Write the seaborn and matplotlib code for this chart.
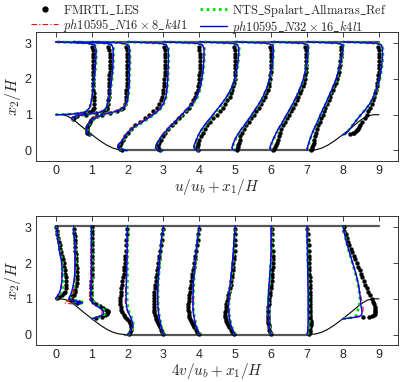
import matplotlib
matplotlib.use("Agg")
import matplotlib.pyplot as plt
from matplotlib.lines import Line2D
import seaborn as sns
import pandas as pd

# stations x1/H where the profiles were taken
stations = [0, 0.5, 1, 2, 3, 4, 5, 6, 7, 8]

# geometry (lower hill walls and channel walls)
hill_left_x = [0, 0.16, 0.32, 0.5, 0.71, 0.9, 1.07, 1.25, 1.43, 1.6, 1.75, 1.93]
hill_left_y = [1.0, 0.998, 0.964, 0.857, 0.679, 0.527, 0.393, 0.258, 0.143, 0.063, 0.02, 0.0]
hill_right_x = [7.07, 7.25, 7.4, 7.57, 7.75, 7.93, 8.1, 8.29, 8.5, 8.68, 8.84, 9.0]
hill_right_y = [0.0, 0.02, 0.063, 0.143, 0.258, 0.393, 0.527, 0.679, 0.857, 0.964, 0.998, 1.0]
top_wall_x = [0, 9]
top_wall_y = [3.036, 3.036]
floor_x = [1.93, 7.07]
floor_y = [0.0, 0.0]

# ---------------- u/u_b profiles ----------------
g_floor_u = [0, 0.03, 0.08, 0.15, 0.25, 0.4, 0.55, 0.7, 0.85, 1.0, 1.15, 1.3, 1.5, 1.75,
             2.0, 2.3, 2.6, 2.85, 2.95, 3.0, 3.036]
u_y_cfd = [
    [1.0, 1.01, 1.03, 1.06, 1.1, 1.2, 1.4, 1.7, 2.0, 2.3, 2.6, 2.85, 2.95, 3.0, 3.036],
    [0.857, 0.88, 0.92, 0.96, 1.0, 1.04, 1.08, 1.14, 1.25, 1.45, 1.7, 2.0, 2.3, 2.6, 2.85, 2.95, 3.0, 3.036],
    [0.44, 0.47, 0.52, 0.6, 0.7, 0.8, 0.9, 1.0, 1.06, 1.12, 1.2, 1.35, 1.55, 1.8, 2.1, 2.4, 2.7, 2.9, 2.97, 3.01, 3.036],
    g_floor_u, g_floor_u, g_floor_u, g_floor_u, g_floor_u, g_floor_u,
    [0.44, 0.47, 0.52, 0.6, 0.7, 0.8, 0.9, 1.0, 1.15, 1.3, 1.5, 1.75, 2.0, 2.3, 2.6, 2.85, 2.95, 3.0, 3.036],
]
u_n32 = [
    [0, 0.35, 0.62, 0.78, 0.87, 0.95, 1.0, 1.04, 1.07, 1.1, 1.12, 1.12, 1.08, 0.9, 0],
    [0, -0.05, -0.04, 0.05, 0.3, 0.6, 0.78, 0.88, 0.93, 0.98, 1.02, 1.06, 1.09, 1.1, 1.1, 1.06, 0.9, 0],
    [0, -0.1, -0.14, -0.13, -0.1, -0.04, 0.08, 0.3, 0.55, 0.78, 0.9, 0.98, 1.02, 1.04, 1.05, 1.06, 1.06, 1.05, 0.98, 0.8, 0],
    [0, -0.2, -0.27, -0.26, -0.17, -0.06, 0.05, 0.25, 0.5, 0.72, 0.9, 1.0, 1.07, 1.1, 1.12, 1.13, 1.14, 1.13, 1.08, 0.9, 0],
    [0, -0.18, -0.22, -0.2, -0.15, -0.05, 0.08, 0.22, 0.37, 0.51, 0.65, 0.8, 0.93, 1.02, 1.07, 1.11, 1.13, 1.13, 1.09, 0.9, 0],
    [0, -0.12, -0.15, -0.14, -0.1, -0.04, 0.04, 0.14, 0.26, 0.38, 0.5, 0.62, 0.76, 0.9, 0.99, 1.05, 1.09, 1.1, 1.07, 0.9, 0],
    [0, -0.07, -0.09, -0.07, -0.03, 0.04, 0.14, 0.25, 0.36, 0.46, 0.56, 0.66, 0.77, 0.88, 0.96, 1.02, 1.05, 1.06, 1.04, 0.88, 0],
    [0, -0.02, -0.03, -0.01, 0.03, 0.1, 0.17, 0.26, 0.35, 0.43, 0.52, 0.6, 0.7, 0.81, 0.9, 0.97, 1.01, 1.03, 1.02, 0.87, 0],
    [0, 0.0, 0.01, 0.03, 0.06, 0.11, 0.17, 0.24, 0.31, 0.37, 0.44, 0.51, 0.6, 0.71, 0.81, 0.9, 0.96, 1.0, 1.0, 0.87, 0],
    [0, 0.08, 0.13, 0.19, 0.27, 0.34, 0.42, 0.5, 0.63, 0.74, 0.85, 0.95, 1.02, 1.07, 1.1, 1.1, 1.07, 0.9, 0],
]
u_sa = [
    [0, 0.33, 0.6, 0.77, 0.86, 0.95, 1.0, 1.05, 1.08, 1.11, 1.13, 1.13, 1.09, 0.9, 0],
    [0, -0.04, -0.03, 0.07, 0.33, 0.62, 0.79, 0.89, 0.94, 0.99, 1.03, 1.07, 1.1, 1.11, 1.11, 1.07, 0.9, 0],
    [0, -0.09, -0.13, -0.12, -0.09, -0.03, 0.1, 0.33, 0.57, 0.79, 0.91, 0.99, 1.03, 1.05, 1.06, 1.07, 1.07, 1.06, 0.99, 0.8, 0],
    [0, -0.19, -0.26, -0.25, -0.16, -0.05, 0.07, 0.27, 0.52, 0.74, 0.91, 1.01, 1.08, 1.11, 1.13, 1.14, 1.15, 1.14, 1.09, 0.9, 0],
    [0, -0.17, -0.21, -0.19, -0.14, -0.04, 0.09, 0.24, 0.39, 0.53, 0.67, 0.82, 0.95, 1.03, 1.08, 1.12, 1.14, 1.14, 1.1, 0.9, 0],
    [0, -0.11, -0.14, -0.13, -0.09, -0.03, 0.05, 0.16, 0.28, 0.4, 0.52, 0.64, 0.78, 0.91, 1.0, 1.06, 1.1, 1.11, 1.08, 0.9, 0],
    [0, -0.06, -0.08, -0.06, -0.02, 0.05, 0.15, 0.26, 0.37, 0.47, 0.57, 0.67, 0.78, 0.89, 0.97, 1.03, 1.06, 1.07, 1.05, 0.88, 0],
    [0, -0.01, -0.02, 0.0, 0.04, 0.11, 0.18, 0.27, 0.36, 0.44, 0.53, 0.61, 0.71, 0.82, 0.91, 0.98, 1.02, 1.04, 1.03, 0.87, 0],
    [0, 0.01, 0.02, 0.04, 0.07, 0.12, 0.18, 0.25, 0.32, 0.38, 0.45, 0.52, 0.61, 0.72, 0.82, 0.91, 0.97, 1.01, 1.01, 0.87, 0],
    [0, 0.07, 0.12, 0.18, 0.26, 0.34, 0.42, 0.5, 0.63, 0.75, 0.86, 0.96, 1.03, 1.08, 1.11, 1.11, 1.08, 0.9, 0],
]
u_n16 = [
    [0, 0.3, 0.58, 0.75, 0.85, 0.94, 0.99, 1.04, 1.07, 1.1, 1.12, 1.12, 1.08, 0.9, 0],
    [0, -0.06, -0.06, 0.0, 0.22, 0.52, 0.74, 0.86, 0.92, 0.98, 1.02, 1.06, 1.09, 1.1, 1.1, 1.06, 0.9, 0],
    [0, -0.11, -0.15, -0.14, -0.11, -0.06, 0.04, 0.24, 0.48, 0.72, 0.87, 0.97, 1.02, 1.04, 1.05, 1.06, 1.06, 1.05, 0.98, 0.8, 0],
    [0, -0.21, -0.28, -0.27, -0.19, -0.09, 0.02, 0.2, 0.45, 0.68, 0.87, 0.99, 1.07, 1.1, 1.12, 1.13, 1.14, 1.13, 1.08, 0.9, 0],
    [0, -0.19, -0.23, -0.21, -0.16, -0.07, 0.05, 0.19, 0.34, 0.48, 0.63, 0.78, 0.92, 1.02, 1.07, 1.11, 1.13, 1.13, 1.09, 0.9, 0],
    [0, -0.13, -0.16, -0.15, -0.11, -0.05, 0.03, 0.13, 0.25, 0.37, 0.49, 0.61, 0.75, 0.89, 0.99, 1.05, 1.09, 1.1, 1.07, 0.9, 0],
    [0, -0.07, -0.1, -0.08, -0.04, 0.03, 0.13, 0.24, 0.35, 0.45, 0.55, 0.65, 0.76, 0.87, 0.96, 1.02, 1.05, 1.06, 1.04, 0.88, 0],
    [0, -0.02, -0.04, -0.02, 0.02, 0.09, 0.16, 0.25, 0.34, 0.42, 0.51, 0.59, 0.69, 0.8, 0.9, 0.97, 1.01, 1.03, 1.02, 0.87, 0],
    [0, 0.0, 0.01, 0.03, 0.06, 0.11, 0.17, 0.24, 0.31, 0.37, 0.44, 0.51, 0.6, 0.71, 0.81, 0.9, 0.96, 1.0, 1.0, 0.87, 0],
    [0, 0.08, 0.13, 0.19, 0.27, 0.34, 0.42, 0.5, 0.63, 0.74, 0.85, 0.95, 1.02, 1.07, 1.1, 1.1, 1.07, 0.9, 0],
]

l_floor_u = [0.02, 0.05, 0.1, 0.15, 0.2, 0.3, 0.4, 0.5, 0.6, 0.7, 0.8, 0.9, 1.0, 1.1, 1.2, 1.3,
             1.4, 1.5, 1.6, 1.7, 1.8, 1.9, 2.0, 2.1, 2.2, 2.3, 2.4, 2.5, 2.6, 2.7, 2.8, 2.9]
u_y_les = [
    [1.02, 1.04, 1.07, 1.1, 1.15, 1.2, 1.3, 1.4, 1.5, 1.6, 1.7, 1.8, 1.9, 2.0, 2.1, 2.2, 2.3, 2.4, 2.5, 2.6, 2.7, 2.8, 2.9],
    [0.88, 0.92, 0.96, 1.0, 1.04, 1.08, 1.12, 1.16, 1.2, 1.3, 1.4, 1.5, 1.6, 1.7, 1.8, 1.9, 2.0, 2.1, 2.2, 2.3, 2.4, 2.5, 2.6, 2.7, 2.8, 2.9],
    [0.46, 0.5, 0.55, 0.6, 0.65, 0.7, 0.75, 0.8, 0.85, 0.9, 0.95, 1.0, 1.05, 1.1, 1.15, 1.2, 1.3, 1.4, 1.5,
     1.6, 1.7, 1.8, 1.9, 2.0, 2.1, 2.2, 2.3, 2.4, 2.5, 2.6, 2.7, 2.8, 2.9],
    l_floor_u, l_floor_u, l_floor_u, l_floor_u, l_floor_u, l_floor_u,
    [0.46, 0.48, 0.5, 0.53, 0.56, 0.6, 0.65, 0.7, 0.8, 0.9, 1.0, 1.1, 1.2, 1.3, 1.4, 1.5, 1.6, 1.7, 1.8, 1.9,
     2.0, 2.1, 2.2, 2.3, 2.4, 2.5, 2.6, 2.7, 2.8, 2.9],
]
u_les = [
    [0.6, 0.78, 0.92, 1.0, 1.05, 1.07, 1.08, 1.08, 1.07, 1.06, 1.05, 1.05, 1.04, 1.04, 1.04, 1.04, 1.04, 1.04, 1.04, 1.04, 1.04, 1.03, 1.0],
    [-0.03, 0.0, 0.1, 0.35, 0.62, 0.8, 0.88, 0.92, 0.94, 0.96, 0.97, 0.98, 0.98, 0.98, 0.98, 0.99, 0.99, 0.99, 1.0, 1.0, 1.0, 1.0, 1.0, 1.0, 0.99, 0.97],
    [-0.08, -0.12, -0.13, -0.13, -0.12, -0.1, -0.08, -0.05, -0.01, 0.05, 0.15, 0.3, 0.5, 0.7, 0.82, 0.88, 0.93, 0.95, 0.96,
     0.97, 0.97, 0.98, 0.98, 0.98, 0.98, 0.98, 0.98, 0.98, 0.98, 0.98, 0.98, 0.98, 0.97],
    [-0.15, -0.22, -0.24, -0.22, -0.19, -0.13, -0.07, 0.0, 0.1, 0.22, 0.35, 0.48, 0.6, 0.72, 0.81, 0.88,
     0.93, 0.96, 0.98, 1.0, 1.01, 1.02, 1.02, 1.03, 1.03, 1.03, 1.04, 1.04, 1.04, 1.04, 1.03, 1.01],
    [-0.1, -0.15, -0.16, -0.15, -0.13, -0.08, -0.02, 0.05, 0.14, 0.23, 0.33, 0.43, 0.53, 0.62, 0.7, 0.77,
     0.83, 0.88, 0.92, 0.95, 0.97, 0.99, 1.0, 1.0, 1.01, 1.01, 1.01, 1.01, 1.01, 1.01, 1.0, 0.98],
    [-0.04, -0.06, -0.06, -0.05, -0.03, 0.0, 0.04, 0.09, 0.15, 0.22, 0.3, 0.39, 0.48, 0.57, 0.65, 0.72,
     0.78, 0.84, 0.88, 0.92, 0.95, 0.97, 0.98, 0.99, 1.0, 1.0, 1.0, 1.0, 1.0, 1.0, 0.99, 0.97],
    [0.04, 0.06, 0.08, 0.09, 0.1, 0.12, 0.14, 0.18, 0.23, 0.3, 0.37, 0.44, 0.51, 0.58, 0.65, 0.71,
     0.77, 0.82, 0.86, 0.9, 0.93, 0.95, 0.97, 0.98, 0.99, 0.99, 1.0, 1.0, 1.0, 1.0, 0.99, 0.97],
    [0.06, 0.09, 0.12, 0.14, 0.16, 0.18, 0.21, 0.24, 0.28, 0.33, 0.38, 0.43, 0.49, 0.55, 0.6, 0.66,
     0.71, 0.76, 0.8, 0.84, 0.88, 0.91, 0.93, 0.95, 0.96, 0.97, 0.97, 0.98, 0.98, 0.98, 0.97, 0.95],
    [0.1, 0.13, 0.15, 0.17, 0.18, 0.2, 0.22, 0.25, 0.28, 0.31, 0.35, 0.39, 0.43, 0.47, 0.51, 0.55,
     0.6, 0.64, 0.68, 0.72, 0.76, 0.8, 0.83, 0.86, 0.88, 0.9, 0.92, 0.93, 0.94, 0.95, 0.95, 0.94],
    [0.2, 0.27, 0.32, 0.36, 0.39, 0.42, 0.45, 0.48, 0.54, 0.6, 0.66, 0.71, 0.76, 0.8, 0.84, 0.87, 0.9, 0.92, 0.94, 0.96,
     0.97, 0.98, 0.99, 1.0, 1.0, 1.0, 1.0, 1.0, 0.99, 0.98],
]

# ---------------- 4v/u_b profiles ----------------
g_floor_v = [0, 0.05, 0.12, 0.2, 0.3, 0.4, 0.5, 0.62, 0.75, 0.9, 1.05, 1.25, 1.5, 1.8, 2.1, 2.4, 2.7, 3.036]
v_y_cfd = [
    [1.0, 1.03, 1.08, 1.16, 1.3, 1.45, 1.7, 2.0, 2.3, 2.6, 2.85, 3.036],
    [0.857, 0.87, 0.89, 0.92, 0.96, 1.0, 1.05, 1.12, 1.25, 1.45, 1.7, 2.0, 2.3, 2.6, 2.85, 3.036],
    [0.44, 0.47, 0.52, 0.58, 0.65, 0.73, 0.82, 0.92, 1.02, 1.15, 1.35, 1.6, 1.9, 2.2, 2.5, 2.8, 3.036],
    g_floor_v, g_floor_v, g_floor_v, g_floor_v, g_floor_v, g_floor_v,
    [0.44, 0.47, 0.5, 0.55, 0.62, 0.7, 0.8, 0.92, 1.05, 1.2, 1.45, 1.7, 2.0, 2.3, 2.6, 2.85, 3.036],
]
v_n32 = [
    [0, 0.02, 0.06, 0.1, 0.15, 0.17, 0.18, 0.17, 0.11, 0.07, 0.04, 0.0],
    [0, 0.15, 0.25, 0.15, -0.05, -0.13, -0.12, -0.08, -0.04, 0.0, 0.03, 0.04, 0.04, 0.03, 0.01, 0],
    [0, 0.12, 0.25, 0.33, 0.33, 0.25, 0.12, 0.02, -0.02, -0.02, -0.01, 0.0, 0.0, 0.0, 0.0, 0.0, 0.0],
    [0, 0.06, 0.1, 0.13, 0.14, 0.12, 0.08, 0.02, -0.02, -0.04, -0.04, -0.04, -0.03, -0.02, -0.02, -0.01, -0.01, 0],
    [0, -0.02, -0.04, -0.06, -0.08, -0.1, -0.12, -0.14, -0.15, -0.16, -0.16, -0.16, -0.15, -0.13, -0.11, -0.08, -0.05, 0],
    [0, -0.02, -0.05, -0.08, -0.11, -0.13, -0.15, -0.17, -0.18, -0.18, -0.18, -0.17, -0.16, -0.14, -0.11, -0.08, -0.05, 0],
    [0, -0.03, -0.07, -0.1, -0.13, -0.15, -0.17, -0.18, -0.19, -0.19, -0.18, -0.16, -0.13, -0.1, -0.07, -0.05, -0.03, 0],
    [0, -0.02, -0.04, -0.05, -0.06, -0.07, -0.08, -0.08, -0.08, -0.08, -0.08, -0.07, -0.05, -0.03, -0.01, 0.0, 0.0, 0],
    [0, 0.01, 0.02, 0.02, 0.03, 0.03, 0.03, 0.03, 0.03, 0.03, 0.03, 0.03, 0.02, 0.02, 0.01, 0.01, 0.0, 0],
    [0, 0.25, 0.45, 0.52, 0.53, 0.52, 0.5, 0.49, 0.48, 0.46, 0.42, 0.36, 0.27, 0.18, 0.09, 0.04, 0],
]
v_sa = [
    [0, 0.03, 0.08, 0.14, 0.19, 0.21, 0.21, 0.19, 0.13, 0.08, 0.04, 0],
    [0, 0.18, 0.3, 0.2, 0.0, -0.08, -0.07, -0.03, 0.0, 0.03, 0.05, 0.06, 0.05, 0.03, 0.01, 0],
    [0, 0.15, 0.3, 0.38, 0.38, 0.3, 0.16, 0.05, 0.0, 0.0, 0.01, 0.02, 0.02, 0.02, 0.01, 0.0, 0.0],
    [0, 0.07, 0.12, 0.15, 0.16, 0.14, 0.1, 0.05, 0.01, -0.01, -0.01, -0.01, 0.0, 0.0, 0.0, 0.0, 0.0, 0],
    [0, -0.01, -0.03, -0.05, -0.07, -0.09, -0.11, -0.13, -0.14, -0.15, -0.15, -0.15, -0.14, -0.12, -0.1, -0.07, -0.04, 0],
    [0, -0.01, -0.04, -0.07, -0.1, -0.12, -0.14, -0.16, -0.17, -0.17, -0.17, -0.16, -0.15, -0.13, -0.1, -0.07, -0.04, 0],
    [0, -0.02, -0.06, -0.09, -0.12, -0.14, -0.16, -0.17, -0.18, -0.18, -0.17, -0.15, -0.12, -0.09, -0.06, -0.04, -0.02, 0],
    [0, -0.01, -0.03, -0.04, -0.05, -0.06, -0.07, -0.07, -0.07, -0.07, -0.07, -0.06, -0.04, -0.02, 0.0, 0.01, 0.01, 0],
    [0, 0.03, 0.05, 0.06, 0.06, 0.06, 0.06, 0.05, 0.05, 0.05, 0.05, 0.04, 0.04, 0.03, 0.02, 0.01, 0.0, 0],
    [0, 0.2, 0.33, 0.38, 0.4, 0.42, 0.45, 0.47, 0.47, 0.45, 0.41, 0.35, 0.26, 0.17, 0.09, 0.04, 0],
]
v_n16 = [
    [0, 0.01, 0.04, 0.08, 0.13, 0.16, 0.17, 0.16, 0.11, 0.07, 0.04, 0],
    [0, -0.2, -0.25, -0.2, -0.12, -0.06, -0.03, -0.01, 0.0, 0.02, 0.04, 0.04, 0.04, 0.03, 0.01, 0],
    [0, 0.1, 0.2, 0.28, 0.3, 0.24, 0.12, 0.0, -0.05, -0.05, -0.04, -0.03, -0.02, -0.02, -0.01, 0.0, 0.0],
    [0, 0.05, 0.09, 0.12, 0.13, 0.11, 0.07, 0.01, -0.04, -0.06, -0.06, -0.05, -0.04, -0.03, -0.02, -0.01, -0.01, 0],
    [0, -0.02, -0.04, -0.06, -0.08, -0.1, -0.12, -0.13, -0.14, -0.15, -0.15, -0.15, -0.14, -0.13, -0.11, -0.08, -0.05, 0],
    [0, -0.02, -0.05, -0.08, -0.11, -0.13, -0.15, -0.16, -0.17, -0.17, -0.17, -0.17, -0.16, -0.14, -0.11, -0.08, -0.05, 0],
    [0, -0.03, -0.07, -0.1, -0.13, -0.15, -0.16, -0.17, -0.18, -0.18, -0.17, -0.15, -0.13, -0.1, -0.07, -0.05, -0.03, 0],
    [0, -0.02, -0.04, -0.05, -0.06, -0.07, -0.07, -0.08, -0.08, -0.08, -0.07, -0.06, -0.05, -0.03, -0.01, 0.0, 0.0, 0],
    [0, 0.01, 0.02, 0.02, 0.03, 0.03, 0.03, 0.03, 0.03, 0.03, 0.03, 0.03, 0.02, 0.02, 0.01, 0.01, 0.0, 0],
    [0, 0.22, 0.4, 0.5, 0.55, 0.56, 0.55, 0.53, 0.5, 0.47, 0.42, 0.36, 0.27, 0.18, 0.09, 0.04, 0],
]

l_floor_v = [0.03, 0.08, 0.14, 0.2, 0.26, 0.32, 0.38, 0.44, 0.5, 0.56, 0.62, 0.7, 0.78, 0.86, 0.94, 1.02,
             1.1, 1.2, 1.3, 1.4, 1.5, 1.6, 1.7, 1.8, 1.9, 2.0, 2.1, 2.2, 2.35, 2.5, 2.65, 2.8, 2.95]
v_y_les = [
    [1.02, 1.05, 1.1, 1.15, 1.2, 1.3, 1.4, 1.5, 1.6, 1.7, 1.8, 1.9, 2.0, 2.1, 2.2, 2.3, 2.4, 2.5, 2.6, 2.7, 2.8, 2.9, 3.0],
    [0.87, 0.9, 0.93, 0.96, 1.0, 1.04, 1.08, 1.12, 1.18, 1.25, 1.35, 1.45, 1.55, 1.65, 1.75, 1.85, 1.95,
     2.05, 2.15, 2.25, 2.35, 2.45, 2.55, 2.65, 2.75, 2.85, 2.95],
    [0.46, 0.5, 0.54, 0.58, 0.62, 0.66, 0.7, 0.75, 0.8, 0.86, 0.92, 1.0, 1.1, 1.2, 1.3, 1.4, 1.5, 1.6, 1.7,
     1.8, 1.9, 2.0, 2.1, 2.2, 2.3, 2.4, 2.5, 2.6, 2.7, 2.8, 2.9, 3.0],
    l_floor_v, l_floor_v, l_floor_v, l_floor_v, l_floor_v, l_floor_v,
    [0.49, 0.5, 0.52, 0.55, 0.58, 0.62, 0.67, 0.72, 0.78, 0.85, 0.92, 1.0, 1.1, 1.2, 1.3, 1.4, 1.5, 1.6,
     1.7, 1.8, 1.9, 2.0, 2.1, 2.2, 2.3, 2.4, 2.5, 2.6, 2.7, 2.8, 2.9, 3.0],
]
v_les = [
    [0.05, 0.1, 0.17, 0.22, 0.25, 0.28, 0.29, 0.29, 0.28, 0.27, 0.26, 0.24, 0.22, 0.2, 0.18, 0.15, 0.13, 0.11, 0.09, 0.07, 0.05, 0.04, 0.02],
    [0.1, 0.15, 0.05, -0.06, -0.1, -0.08, -0.04, 0.0, 0.03, 0.05, 0.07, 0.08, 0.08, 0.08, 0.08, 0.08, 0.07,
     0.07, 0.06, 0.06, 0.05, 0.05, 0.04, 0.03, 0.03, 0.02, 0.01],
    [0.12, 0.28, 0.38, 0.44, 0.46, 0.45, 0.4, 0.32, 0.22, 0.12, 0.04, -0.01, -0.02, -0.02, -0.02, -0.01, -0.01,
     0.0, 0.0, 0.0, 0.01, 0.01, 0.01, 0.01, 0.01, 0.01, 0.01, 0.01, 0.0, 0.0, 0.0, 0.0],
    [0.04, 0.08, 0.1, 0.11, 0.1, 0.07, 0.03, -0.02, -0.07, -0.11, -0.14, -0.17, -0.19, -0.2, -0.2, -0.2, -0.19,
     -0.18, -0.17, -0.15, -0.14, -0.12, -0.11, -0.1, -0.09, -0.08, -0.07, -0.06, -0.05, -0.04, -0.03, -0.02, -0.01],
    [-0.01, -0.04, -0.07, -0.1, -0.13, -0.16, -0.18, -0.2, -0.22, -0.24, -0.25, -0.26, -0.27, -0.27, -0.27, -0.27,
     -0.26, -0.25, -0.24, -0.23, -0.22, -0.2, -0.19, -0.17, -0.16, -0.14, -0.13, -0.11, -0.09, -0.07, -0.05, -0.03, -0.02],
    [-0.02, -0.06, -0.1, -0.14, -0.18, -0.21, -0.24, -0.26, -0.28, -0.29, -0.3, -0.31, -0.31, -0.31, -0.3, -0.29,
     -0.28, -0.27, -0.26, -0.24, -0.23, -0.21, -0.2, -0.18, -0.16, -0.15, -0.13, -0.11, -0.09, -0.07, -0.05, -0.03, -0.02],
    [-0.03, -0.08, -0.13, -0.17, -0.21, -0.24, -0.26, -0.27, -0.28, -0.28, -0.28, -0.27, -0.26, -0.25, -0.23, -0.21,
     -0.19, -0.17, -0.15, -0.13, -0.11, -0.09, -0.08, -0.07, -0.06, -0.05, -0.04, -0.03, -0.02, -0.01, -0.01, 0.0, 0.0],
    [-0.01, -0.03, -0.05, -0.06, -0.07, -0.08, -0.08, -0.09, -0.09, -0.09, -0.09, -0.08, -0.08, -0.07, -0.06, -0.05,
     -0.04, -0.02, -0.01, 0.0, 0.01, 0.02, 0.03, 0.03, 0.04, 0.04, 0.04, 0.04, 0.04, 0.03, 0.03, 0.02, 0.01],
    [0.06, 0.08, 0.09, 0.09, 0.1, 0.1, 0.1, 0.09, 0.09, 0.09, 0.09, 0.08, 0.08, 0.08, 0.08, 0.08,
     0.08, 0.07, 0.07, 0.07, 0.07, 0.07, 0.06, 0.06, 0.06, 0.06, 0.05, 0.05, 0.04, 0.04, 0.03, 0.02, 0.01],
    [0.55, 0.72, 0.8, 0.86, 0.89, 0.9, 0.9, 0.89, 0.88, 0.86, 0.83, 0.8, 0.75, 0.71, 0.67, 0.62, 0.58, 0.54,
     0.5, 0.46, 0.42, 0.38, 0.34, 0.3, 0.26, 0.22, 0.18, 0.14, 0.1, 0.07, 0.04, 0.02],
]


def to_frame(ys, vals):
    """Long table of profile points, shifted by the station position."""
    rows = []
    for st, yy, vv in zip(stations, ys, vals):
        for y, v in zip(yy, vv):
            rows.append({"station": st, "x": st + v, "y": y})
    return pd.DataFrame(rows)


def draw_panel(ax, y_cfd, sa, n16, n32, y_les, les, xlabel):
    # walls
    wall_kw = dict(color="#555555", lw=1.6, ax=ax, legend=False, sort=False)
    sns.lineplot(x=top_wall_x, y=top_wall_y, **wall_kw)
    sns.lineplot(x=floor_x, y=floor_y, **wall_kw)
    sns.lineplot(x=hill_left_x, y=hill_left_y, color="k", lw=0.8, ax=ax, sort=False)
    sns.lineplot(x=hill_right_x, y=hill_right_y, color="k", lw=0.8, ax=ax, sort=False)

    sns.scatterplot(data=to_frame(y_les, les), x="x", y="y", color="k", s=10,
                    linewidth=0, ax=ax, zorder=3)
    line_kw = dict(x="x", y="y", units="station", estimator=None, sort=False, ax=ax, legend=False)
    sns.lineplot(data=to_frame(y_cfd, sa), color="#00e000", lw=2.0,
                 linestyle=(0, (1, 1.2)), zorder=4, **line_kw)
    sns.lineplot(data=to_frame(y_cfd, n16), color="red", lw=0.8,
                 linestyle=(0, (5, 2, 1, 2)), zorder=5, **line_kw)
    sns.lineplot(data=to_frame(y_cfd, n32), color="blue", lw=1.0, zorder=6, **line_kw)

    ax.set_xlim(-0.55, 9.53)
    ax.set_ylim(-0.29, 3.31)
    ax.set_xticks(range(10))
    ax.set_yticks([0, 1, 2, 3])
    ax.tick_params(direction="in", top=True, right=True, length=3.5, width=0.6,
                   labelsize=9, pad=3)
    for sp in ax.spines.values():
        sp.set_linewidth(0.7)
        sp.set_color("#333333")
    ax.set_xlabel(xlabel, fontsize=11, labelpad=0)
    ax.set_ylabel(r"$x_2/H$", fontsize=11.5, labelpad=1)


sns.set_style("white")
plt.rcParams["font.family"] = ["Liberation Sans", "DejaVu Sans"]
plt.rcParams["mathtext.fontset"] = "cm"

fig = plt.figure(figsize=(4.18, 3.82), dpi=100)
ax1 = fig.add_axes([0.086, 0.579, 0.866, 0.337])
ax2 = fig.add_axes([0.086, 0.097, 0.866, 0.337])

draw_panel(ax1, u_y_cfd, u_sa, u_n16, u_n32, u_y_les, u_les, r"$u/u_b + x_1/H$")
draw_panel(ax2, v_y_cfd, v_sa, v_n16, v_n32, v_y_les, v_les, r"$4v/u_b + x_1/H$")

handles = [
    Line2D([], [], color="k", marker="o", ms=3.5, ls="none"),
    Line2D([], [], color="red", lw=0.8, ls=(0, (5, 2, 1, 2))),
    Line2D([], [], color="#00e000", lw=2.0, ls=(0, (1, 1.2))),
    Line2D([], [], color="blue", lw=1.0),
]
labels = [
    r"$\mathrm{FMRTL\_LES}$",
    r"$ph10595\_N16\times8\_k4l1$",
    r"$\mathrm{NTS\_Spalart\_Allmaras\_Ref}$",
    r"$ph10595\_N32\times16\_k4l1$",
]
fig.legend(handles, labels, ncol=2, loc="upper center", bbox_to_anchor=(0.5, 1.025),
           frameon=False, fontsize=9, handlelength=2.2, handletextpad=0.4,
           columnspacing=0.9, labelspacing=0.0)

fig.savefig("out.png", dpi=100)
